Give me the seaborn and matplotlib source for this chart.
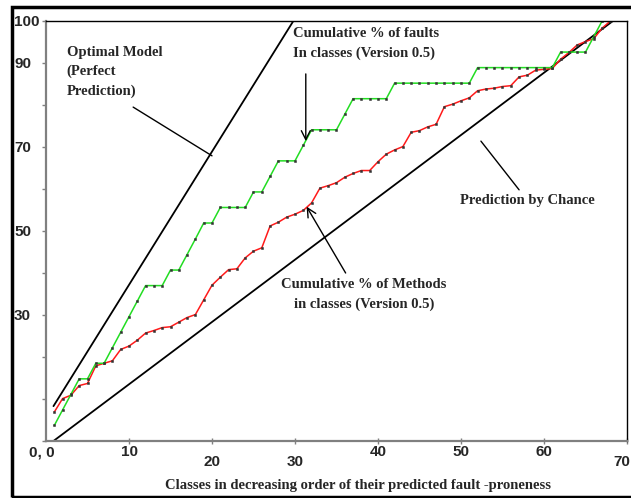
import matplotlib
matplotlib.use("Agg")
import matplotlib.pyplot as plt
import seaborn as sns
import pandas as pd
from matplotlib.patches import Rectangle
from matplotlib.transforms import blended_transform_factory

# ---------------- data ----------------
classes = list(range(1, 69))
faults_pct = [3.7, 7.4, 11.1, 14.8, 14.8, 18.5, 18.5, 22.2, 25.9, 29.6,
              33.3, 37.0, 37.0, 37.0, 40.7, 40.7, 44.4, 48.1, 51.9, 51.9,
              55.6, 55.6, 55.6, 55.6, 59.3, 59.3, 63.0, 66.7, 66.7, 66.7,
              70.4, 74.1, 74.1, 74.1, 74.1, 77.8, 81.5, 81.5, 81.5, 81.5,
              81.5, 85.2, 85.2, 85.2, 85.2, 85.2, 85.2, 85.2, 85.2, 85.2,
              85.2, 88.9, 88.9, 88.9, 88.9, 88.9, 88.9, 88.9, 88.9, 88.9,
              88.9, 92.6, 92.6, 92.6, 92.6, 96.3, 100.0, 100.0]
methods_pct = [6.9, 10.1, 10.9, 13.2, 13.7, 17.9, 18.5, 19.1, 21.8, 22.6,
               24.0, 25.7, 26.3, 27.0, 27.2, 28.3, 29.4, 30.1, 33.6, 37.1,
               39.0, 40.8, 41.0, 43.6, 45.2, 46.0, 51.2, 52.1, 53.3, 54.0,
               54.9, 56.7, 60.2, 60.8, 61.5, 62.8, 63.7, 64.4, 64.4, 66.5,
               68.3, 69.3, 70.1, 73.5, 73.9, 74.8, 75.4, 79.6, 80.2, 81.0,
               81.7, 83.4, 83.8, 84.0, 84.4, 84.6, 86.7, 87.1, 88.3, 88.5,
               88.7, 90.9, 92.5, 94.3, 95.1, 95.8, 98.3, 100.0]
optimal_x = [0.9, 29.8]
optimal_y = [8.3, 100.0]
chance_x = [0.9, 68.3]
chance_y = [0.0, 100.0]
ytick_vals = [0, 10, 20, 30, 40, 50, 60, 70, 80, 90, 100]
ytick_labels = ["", "", "", "30", "", "50", "", "70", "", "90", "100"]
xtick_vals = [10, 20, 30, 40, 50, 60, 70]
xtick_labels = ["10", "20", "30", "40", "50", "60", "70"]

df = pd.DataFrame({"cls": classes, "faults": faults_pct, "methods": methods_pct})
df_opt = pd.DataFrame({"x": optimal_x, "y": optimal_y})
df_ch = pd.DataFrame({"x": chance_x, "y": chance_y})

# ---------------- figure ----------------
sns.set_style("white")
plt.rcParams["font.family"] = ["Liberation Sans", "DejaVu Sans"]

W, H = 631, 498
fig = plt.figure(figsize=(W / 100, H / 100), dpi=100)
L, R, T, B = 46, 627, 21, 441
ax = fig.add_axes([L / W, 1 - B / H, (R - L) / W, (B - T) / H])

sns.lineplot(data=df_ch, x="x", y="y", ax=ax, color="black", lw=1.3)
sns.lineplot(data=df_opt, x="x", y="y", ax=ax, color="black", lw=1.3)
sns.lineplot(data=df, x="cls", y="methods", ax=ax, color="#ff1a1a", lw=1.1,
             marker="s", markersize=1.4, markerfacecolor="#333333",
             markeredgecolor="#333333", markeredgewidth=0.4)
sns.lineplot(data=df, x="cls", y="faults", ax=ax, color="#22dd22", lw=1.1,
             marker="s", markersize=1.4, markerfacecolor="#333333",
             markeredgecolor="#333333", markeredgewidth=0.4)

ax.set_xlim(0, 70)
ax.set_ylim(0, 100)
ax.set_xlabel("")
ax.set_ylabel("")

# spines
for s in ["left", "bottom"]:
    ax.spines[s].set_color("#808080")
    ax.spines[s].set_linewidth(1.6)
for s in ["top", "right"]:
    ax.spines[s].set_color("black")
    ax.spines[s].set_linewidth(1.0)

# y ticks
ax.set_yticks(ytick_vals)
ax.set_yticklabels(ytick_labels)
ax.tick_params(axis="y", direction="out", length=3, width=1, color="#808080",
               pad=20, labelsize=11, left=True)
for lab in ax.get_yticklabels():
    lab.set_horizontalalignment("left")
    lab.set_fontweight("bold")

# x ticks (staggered labels drawn as text)
ax.set_xticks(xtick_vals)
ax.set_xticklabels([])
ax.tick_params(axis="x", direction="inout", length=5, width=1, color="#808080",
               bottom=True)
bt = blended_transform_factory(ax.transData, fig.transFigure)
stagger = [452, 462, 462, 452, 452, 452, 462]
xpos = [10, 20, 30, 40, 50, 60, 69.4]
for v, lab, py in zip(xpos, xtick_labels, stagger):
    ax.text(v, 1 - py / H, lab, transform=bt, ha="center", va="center",
            fontsize=11, fontweight="bold")
ax.text(55 / W, 1 - 452 / H, "0, 0", transform=fig.transFigure, ha="right",
        va="center", fontsize=11, fontweight="bold")

# annotations
serif = dict(family=["Liberation Serif", "DejaVu Serif"], fontweight="bold",
             fontsize=10.5)
ax.text(2.5, 87.9, "Optimal Model\n(Perfect\nPrediction)", ha="left",
        va="center", linespacing=1.6, **serif)
ax.plot([10.5, 20.0], [79.5, 67.9], color="black", lw=1.0)

ax.text(29.8, 94.7, "Cumulative % of faults\nIn classes (Version 0.5)",
        ha="left", va="center", linespacing=1.65, **serif)
ax.annotate("", xy=(31.3, 71.4), xytext=(31.3, 87.4),
            arrowprops=dict(arrowstyle="->", color="black", lw=1.0,
                            mutation_scale=16, shrinkA=0, shrinkB=0))

ax.text(38.3, 34.9, "Cumulative % of Methods\nin classes (Version 0.5)",
        ha="center", va="center", linespacing=1.65, **serif)
ax.annotate("", xy=(31.4, 55.8), xytext=(36.1, 40.0),
            arrowprops=dict(arrowstyle="->", color="black", lw=1.0,
                            mutation_scale=16, shrinkA=0, shrinkB=0))

ax.text(58.0, 57.2, "Prediction by Chance", ha="center", va="center", **serif)
ax.plot([52.4, 57.0], [71.4, 59.8], color="black", lw=1.0)

fig.text(358 / W, 1 - 485 / H,
         "Classes in decreasing order of their predicted fault -proneness",
         ha="center", va="center", **serif)

# outer frame (right edge lies just past the picture)
fig.patches.append(Rectangle((12 / W, 1 - 497 / H), (W + 4 - 12) / W,
                             (497 - 7) / H, transform=fig.transFigure,
                             fill=False, lw=2.5, ec="black"))

fig.savefig("out.png", dpi=100)
